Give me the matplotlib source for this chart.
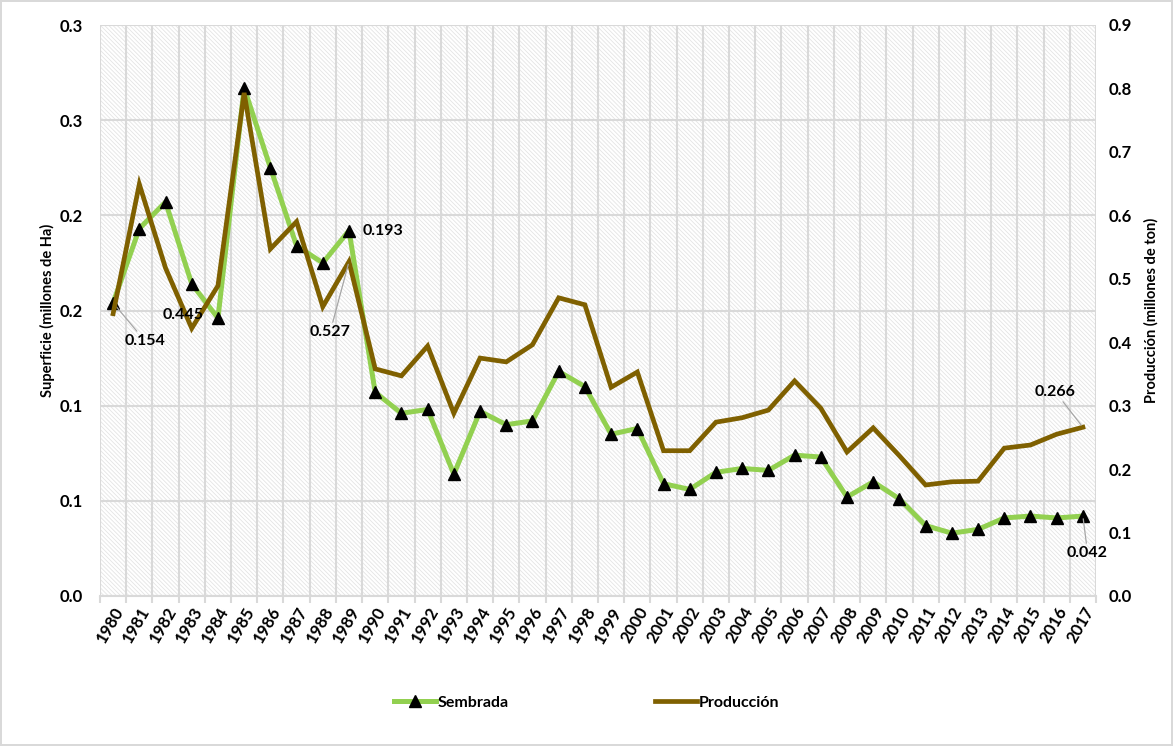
import matplotlib.pyplot as plt
from matplotlib.patches import Rectangle
import numpy as np

years = list(range(1980, 2018))
sembrada = [0.154, 0.193, 0.207, 0.164, 0.146, 0.267, 0.225, 0.184, 0.175, 0.192,
            0.107, 0.096, 0.098, 0.064, 0.097, 0.090, 0.092, 0.118, 0.110, 0.085,
            0.088, 0.059, 0.056, 0.065, 0.067, 0.066, 0.074, 0.073, 0.052, 0.060,
            0.051, 0.037, 0.033, 0.035, 0.041, 0.042, 0.041, 0.042]
produccion = [0.445, 0.649, 0.517, 0.422, 0.489, 0.793, 0.547, 0.590, 0.456, 0.527,
              0.358, 0.347, 0.394, 0.288, 0.375, 0.369, 0.396, 0.470, 0.459, 0.329,
              0.353, 0.229, 0.229, 0.274, 0.281, 0.293, 0.339, 0.296, 0.227, 0.265,
              0.221, 0.175, 0.180, 0.181, 0.233, 0.238, 0.255, 0.266]
left_ticks = [0.0, 0.05, 0.10, 0.15, 0.20, 0.25, 0.30]
left_tick_labels = ['0.0', '0.1', '0.1', '0.2', '0.2', '0.3', '0.3']
right_ticks = [0.0, 0.1, 0.2, 0.3, 0.4, 0.5, 0.6, 0.7, 0.8, 0.9]

plt.rcParams['font.family'] = ['Lato', 'DejaVu Sans']
plt.rcParams['font.weight'] = 'bold'
plt.rcParams['hatch.linewidth'] = 0.6

grid_c = '#D9D9D9'
green = '#92D050'
brown = '#7F6000'

fig = plt.figure(figsize=(11.73, 7.46), dpi=100)
fig.patch.set_edgecolor(grid_c)
fig.patch.set_linewidth(1.5)
ax = fig.add_axes([100 / 1173, 1 - 596 / 746, 996 / 1173, 571 / 746])
x = np.arange(len(years))

# hatched plot-area background
ax.add_patch(Rectangle((0, 0), 1, 1, transform=ax.transAxes, facecolor='white',
                       edgecolor='#E4E4E4', lw=0, hatch='\\\\\\\\\\\\\\\\', zorder=0))

ax.set_xlim(-0.5, len(years) - 0.5)
ax.set_ylim(0, 0.3)
ax.set_yticks(left_ticks)
ax.set_yticklabels(left_tick_labels)
ax.set_xticks(x)
ax.set_xticklabels([str(y) for y in years], rotation=60, ha='right',
                   rotation_mode='anchor')
ax.set_xticks(np.arange(-0.5, len(years), 1), minor=True)
ax.tick_params(axis='x', which='major', length=0, pad=6, labelsize=12)
ax.tick_params(axis='x', which='minor', length=5, color=grid_c, width=1.5)
ax.tick_params(axis='y', length=0, labelsize=12, pad=12)
ax.grid(axis='y', which='major', color=grid_c, lw=1.5)
ax.grid(axis='x', which='minor', color=grid_c, lw=1.5)
ax.set_axisbelow(True)
for s in ax.spines.values():
    s.set_visible(False)
ax.spines['bottom'].set_visible(True)
ax.spines['bottom'].set_color(grid_c)
ax.spines['bottom'].set_linewidth(1.5)

l1, = ax.plot(x, sembrada, color=green, lw=3.6, marker='^', ms=8,
              mfc='black', mec='black', label='Sembrada', zorder=3)
ax.set_ylabel('Superficie (millones de Ha)', fontsize=10.5, fontweight='bold',
              labelpad=4)

ax2 = ax.twinx()
ax2.set_ylim(0, 0.9)
ax2.set_yticks(right_ticks)
ax2.set_yticklabels([f'{v:.1f}' for v in right_ticks])
ax2.tick_params(axis='y', length=0, labelsize=12, pad=9)
for s in ax2.spines.values():
    s.set_visible(False)
l2, = ax2.plot(x, produccion, color=brown, lw=3.4, label='Producción',
               solid_joinstyle='miter', zorder=3)
ax2.set_ylabel('Producción (millones de ton)', fontsize=10.5, fontweight='bold',
               labelpad=9)

# data labels
lead = dict(arrowstyle='-', color='#A6A6A6', lw=0.9, shrinkA=0, shrinkB=2)
ax.annotate(f'{sembrada[0]:.3f}', xy=(0, sembrada[0]), xytext=(1.22, 0.134),
            ha='center', va='center', fontsize=11.5, arrowprops=lead)
ax2.annotate(f'{produccion[0]:.3f}', xy=(0, produccion[0]), xytext=(2.67, 0.443),
             ha='center', va='center', fontsize=11.5)
ax2.annotate(f'{produccion[9]:.3f}', xy=(9, produccion[9]), xytext=(8.28, 0.416),
             ha='center', va='center', fontsize=11.5, arrowprops=lead)
ax.annotate(f'{sembrada[9] + 0.001:.3f}', xy=(9, sembrada[9]), xytext=(10, 0),
            textcoords='offset points', ha='left', va='center', fontsize=11.5)
ax2.annotate(f'{produccion[-1]:.3f}', xy=(37, produccion[-1]), xytext=(35.95, 0.3216),
             ha='center', va='center', fontsize=11.5, arrowprops=lead)
ax.annotate(f'{sembrada[-1]:.3f}', xy=(37, sembrada[-1]), xytext=(37.18, 0.0226),
            ha='center', va='center', fontsize=11.5, arrowprops=lead)

fig.legend([l1, l2], ['Sembrada', 'Producción'], loc='center',
           bbox_to_anchor=(0.5, 1 - 703 / 746), ncol=2, frameon=False,
           fontsize=11.5, handlelength=2.6, handletextpad=0.1, columnspacing=9.2)

fig.savefig('out.png', dpi=100)
